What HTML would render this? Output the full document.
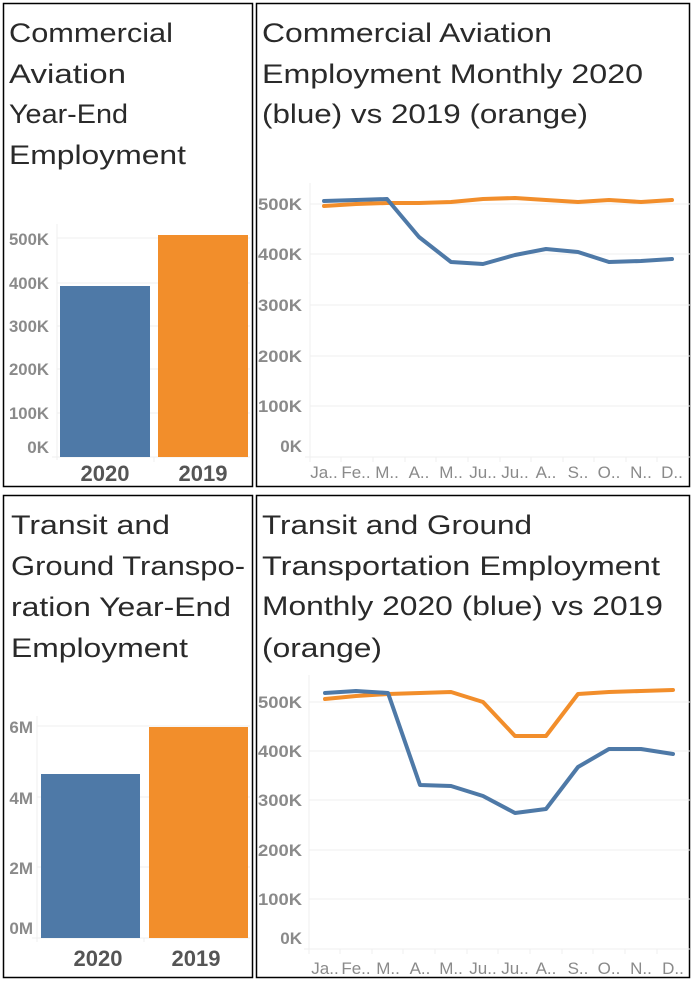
<!DOCTYPE html>
<html><head><meta charset="utf-8"><style>
html,body{margin:0;padding:0;background:#fff;}
svg{display:block;}
.t{font-family:"Liberation Sans","DejaVu Sans",sans-serif;font-size:27px;fill:#2a2a2a;}
.a{font-family:"Liberation Sans",sans-serif;font-size:17px;font-weight:bold;fill:#8a8a8a;}
.m{font-family:"Liberation Sans",sans-serif;font-size:17px;fill:#8a8a8a;}
.y{font-family:"Liberation Sans",sans-serif;font-size:22px;font-weight:bold;fill:#555;}
</style></head><body>
<svg width="700" height="990" viewBox="0 0 700 990" xmlns="http://www.w3.org/2000/svg">
<rect width="700" height="990" fill="#fff"/>
<g fill="none" stroke="#000" stroke-width="1.5">
<rect x="3.5" y="3.5" width="249" height="483"/>
<rect x="256.5" y="3.5" width="433" height="483"/>
<rect x="3.5" y="495.5" width="249" height="482"/>
<rect x="256.5" y="495.5" width="433" height="482"/>
</g>
<text class="t" x="9" y="42" textLength="164" lengthAdjust="spacingAndGlyphs">Commercial</text>
<text class="t" x="9" y="83" textLength="117" lengthAdjust="spacingAndGlyphs">Aviation</text>
<text class="t" x="9" y="123" textLength="119" lengthAdjust="spacingAndGlyphs">Year-End</text>
<text class="t" x="9" y="164" textLength="177" lengthAdjust="spacingAndGlyphs">Employment</text>
<text class="t" x="262" y="42" textLength="290" lengthAdjust="spacingAndGlyphs">Commercial Aviation</text>
<text class="t" x="262" y="83" textLength="381" lengthAdjust="spacingAndGlyphs">Employment Monthly 2020</text>
<text class="t" x="262" y="123" textLength="326" lengthAdjust="spacingAndGlyphs">(blue) vs 2019 (orange)</text>
<text class="t" x="11" y="534" textLength="159" lengthAdjust="spacingAndGlyphs">Transit and</text>
<text class="t" x="11" y="575" textLength="234" lengthAdjust="spacingAndGlyphs">Ground Transpo-</text>
<text class="t" x="11" y="616" textLength="220" lengthAdjust="spacingAndGlyphs">ration Year-End</text>
<text class="t" x="11" y="657" textLength="177" lengthAdjust="spacingAndGlyphs">Employment</text>
<text class="t" x="262" y="534" textLength="270" lengthAdjust="spacingAndGlyphs">Transit and Ground</text>
<text class="t" x="262" y="575" textLength="398" lengthAdjust="spacingAndGlyphs">Transportation Employment</text>
<text class="t" x="262" y="615" textLength="401" lengthAdjust="spacingAndGlyphs">Monthly 2020 (blue) vs 2019</text>
<text class="t" x="262" y="657" textLength="120" lengthAdjust="spacingAndGlyphs">(orange)</text>

<g stroke="#efefef" stroke-width="1">
<line x1="57" y1="238" x2="250" y2="238"/><line x1="57" y1="283" x2="250" y2="283"/>
<line x1="57" y1="326" x2="250" y2="326"/><line x1="57" y1="369" x2="250" y2="369"/>
<line x1="57" y1="413" x2="250" y2="413"/><line x1="52" y1="457" x2="250" y2="457"/>
<line x1="57" y1="224" x2="57" y2="460"/><line x1="154" y1="457" x2="154" y2="462"/>
</g>
<rect x="60" y="286" width="90" height="171" fill="#4e79a7"/>
<rect x="158" y="235" width="90" height="222" fill="#f28e2b"/>
<g class="a" text-anchor="end">
<text x="49" y="245" textLength="40" lengthAdjust="spacingAndGlyphs">500K</text><text x="49" y="289" textLength="40" lengthAdjust="spacingAndGlyphs">400K</text><text x="49" y="332" textLength="40" lengthAdjust="spacingAndGlyphs">300K</text>
<text x="49" y="375" textLength="40" lengthAdjust="spacingAndGlyphs">200K</text><text x="49" y="419" textLength="40" lengthAdjust="spacingAndGlyphs">100K</text><text x="49" y="453">0K</text>
</g>
<text class="y" x="105" y="481" text-anchor="middle">2020</text>
<text class="y" x="203" y="481" text-anchor="middle">2019</text>

<g stroke="#efefef" stroke-width="1">
<line x1="310" y1="204" x2="690" y2="204"/><line x1="310" y1="254" x2="690" y2="254"/>
<line x1="310" y1="305" x2="690" y2="305"/><line x1="310" y1="356" x2="690" y2="356"/>
<line x1="310" y1="406" x2="690" y2="406"/><line x1="305" y1="457" x2="690" y2="457"/>
<line x1="310" y1="183" x2="310" y2="462"/>
<line x1="341" y1="457" x2="341" y2="462"/><line x1="373" y1="457" x2="373" y2="462"/>
<line x1="405" y1="457" x2="405" y2="462"/><line x1="436" y1="457" x2="436" y2="462"/>
<line x1="468" y1="457" x2="468" y2="462"/><line x1="500" y1="457" x2="500" y2="462"/>
<line x1="531" y1="457" x2="531" y2="462"/><line x1="563" y1="457" x2="563" y2="462"/>
<line x1="594" y1="457" x2="594" y2="462"/><line x1="626" y1="457" x2="626" y2="462"/>
<line x1="657" y1="457" x2="657" y2="462"/>
</g>
<g class="a" text-anchor="end">
<text x="302" y="210" textLength="44" lengthAdjust="spacingAndGlyphs">500K</text><text x="302" y="260" textLength="44" lengthAdjust="spacingAndGlyphs">400K</text><text x="302" y="311" textLength="44" lengthAdjust="spacingAndGlyphs">300K</text>
<text x="302" y="362" textLength="44" lengthAdjust="spacingAndGlyphs">200K</text><text x="302" y="412" textLength="44" lengthAdjust="spacingAndGlyphs">100K</text><text x="302" y="452">0K</text>
</g>
<polyline fill="none" stroke="#f28e2b" stroke-width="4" stroke-linejoin="round" stroke-linecap="round"
 points="324,206 356,204 387,203 419,203 451,202 483,199 515,198 546,200 578,202 609,200 641,202 672,200"/>
<polyline fill="none" stroke="#4e79a7" stroke-width="4" stroke-linejoin="round" stroke-linecap="round"
 points="324,201 356,200 387,199 419,237 451,262 483,264 515,255 546,249 578,252 609,262 641,261 672,259"/>
<g class="m" text-anchor="middle">
<text x="324" y="478">Ja..</text><text x="356" y="478">Fe..</text><text x="387" y="478">M..</text>
<text x="419" y="478">A..</text><text x="451" y="478">M..</text><text x="483" y="478">Ju..</text>
<text x="515" y="478">Ju..</text><text x="546" y="478">A..</text><text x="578" y="478">S..</text>
<text x="609" y="478">O..</text><text x="641" y="478">N..</text><text x="672" y="478">D..</text>
</g>

<g stroke="#efefef" stroke-width="1">
<line x1="37" y1="726" x2="250" y2="726"/><line x1="37" y1="797" x2="250" y2="797"/>
<line x1="37" y1="867" x2="250" y2="867"/><line x1="32" y1="938" x2="250" y2="938"/>
<line x1="37" y1="716" x2="37" y2="942"/><line x1="144" y1="938" x2="144" y2="942"/>
</g>
<rect x="41" y="774" width="99" height="164" fill="#4e79a7"/>
<rect x="149" y="727" width="99" height="211" fill="#f28e2b"/>
<g class="a" text-anchor="end">
<text x="33" y="733">6M</text><text x="33" y="804">4M</text><text x="33" y="874">2M</text><text x="33" y="934">0M</text>
</g>
<text class="y" x="98" y="966" text-anchor="middle">2020</text>
<text class="y" x="196" y="966" text-anchor="middle">2019</text>

<g stroke="#efefef" stroke-width="1">
<line x1="309" y1="702" x2="690" y2="702"/><line x1="309" y1="751" x2="690" y2="751"/>
<line x1="309" y1="800" x2="690" y2="800"/><line x1="309" y1="850" x2="690" y2="850"/>
<line x1="309" y1="899" x2="690" y2="899"/><line x1="304" y1="949" x2="690" y2="949"/>
<line x1="309" y1="675" x2="309" y2="954"/>
<line x1="340" y1="949" x2="340" y2="954"/><line x1="372" y1="949" x2="372" y2="954"/>
<line x1="403" y1="949" x2="403" y2="954"/><line x1="435" y1="949" x2="435" y2="954"/>
<line x1="467" y1="949" x2="467" y2="954"/><line x1="498" y1="949" x2="498" y2="954"/>
<line x1="530" y1="949" x2="530" y2="954"/><line x1="562" y1="949" x2="562" y2="954"/>
<line x1="593" y1="949" x2="593" y2="954"/><line x1="625" y1="949" x2="625" y2="954"/>
<line x1="657" y1="949" x2="657" y2="954"/>
</g>
<g class="a" text-anchor="end">
<text x="302" y="708" textLength="44" lengthAdjust="spacingAndGlyphs">500K</text><text x="302" y="757" textLength="44" lengthAdjust="spacingAndGlyphs">400K</text><text x="302" y="806" textLength="44" lengthAdjust="spacingAndGlyphs">300K</text>
<text x="302" y="856" textLength="44" lengthAdjust="spacingAndGlyphs">200K</text><text x="302" y="905" textLength="44" lengthAdjust="spacingAndGlyphs">100K</text><text x="302" y="944">0K</text>
</g>
<polyline fill="none" stroke="#f28e2b" stroke-width="4" stroke-linejoin="round" stroke-linecap="round"
 points="325,699 356,696 388,694 420,693 451,692 483,702 515,736 546,736 578,694 609,692 641,691 673,690"/>
<polyline fill="none" stroke="#4e79a7" stroke-width="4" stroke-linejoin="round" stroke-linecap="round"
 points="325,693 356,691 388,693 420,785 451,786 483,796 515,813 546,809 578,767 609,749 641,749 673,754"/>
<g class="m" text-anchor="middle">
<text x="325" y="974">Ja..</text><text x="356" y="974">Fe..</text><text x="388" y="974">M..</text>
<text x="420" y="974">A..</text><text x="451" y="974">M..</text><text x="483" y="974">Ju..</text>
<text x="515" y="974">Ju..</text><text x="546" y="974">A..</text><text x="578" y="974">S..</text>
<text x="609" y="974">O..</text><text x="641" y="974">N..</text><text x="673" y="974">D..</text>
</g>
</svg>
</body></html>
